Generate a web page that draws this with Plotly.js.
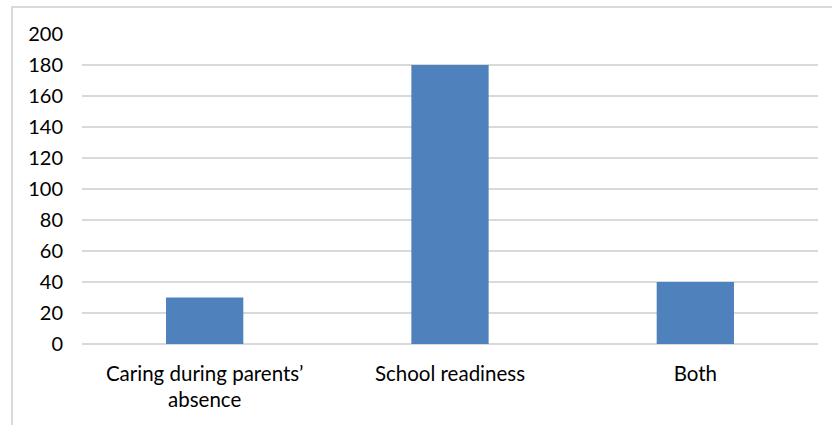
<!DOCTYPE html>
<html><head><meta charset="utf-8">
<script src="https://cdn.plot.ly/plotly-3.0.1.min.js"></script>
<style>
html,body{margin:0;padding:0;background:#fff;overflow:hidden;}
#chart{width:832px;height:425px;position:relative;}
#frame{position:absolute;left:11px;top:6px;width:900px;height:500px;border:2px solid #d9d9d9;pointer-events:none;box-sizing:border-box;}
</style></head>
<body>
<div id="chart"></div>
<div id="frame"></div>
<script>
const categories = ["Caring during parents’<br>absence", "School readiness", "Both"];
const values = [30, 180, 40];
const yTicks = [0, 20, 40, 60, 80, 100, 120, 140, 160, 180, 200];

const trace = {
  type: 'bar', x: categories, y: values,
  marker: {color: '#4f81bd'}, hoverinfo: 'none'
};
const layout = {
  width: 832, height: 425,
  margin: {l: 82, r: 14, t: 34, b: 81},
  paper_bgcolor: '#fff', plot_bgcolor: '#fff',
  bargap: 0.685,
  showlegend: false,
  font: {family: 'Lato, "Open Sans", sans-serif', size: 20, color: '#000'},
  xaxis: {type: 'category', showgrid: false, zeroline: false, showline: false, ticks: '', ticklabelstandoff: 15,
          tickfont: {size: 20.5}},
  yaxis: {range: [0, 200], tickvals: yTicks, showgrid: true, gridcolor: '#d9d9d9', gridwidth: 1.5,
          zeroline: true, zerolinecolor: '#d9d9d9', zerolinewidth: 1.5, showline: false, ticks: '', ticklabelstandoff: 18}
};
Plotly.newPlot('chart', [trace], layout, {displayModeBar: false, staticPlot: true});
</script>
</body></html>
